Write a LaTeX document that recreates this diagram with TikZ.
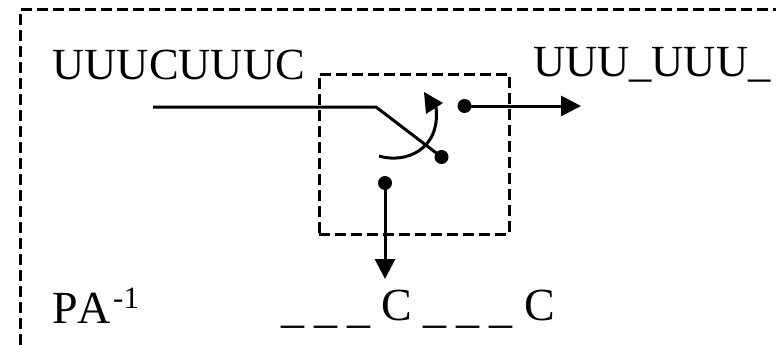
\documentclass[tikz,border=0pt]{standalone}
\usepackage{fontspec}
\setmainfont{Liberation Serif}
\usetikzlibrary{arrows.meta}
\newcommand{\lowbar}{\raisebox{-2.5pt}{\_}}
\newcommand{\barrun}{\lowbar\hspace{10.4pt}\lowbar\hspace{10.4pt}\lowbar}
\tikzset{
  x=1pt,y=-1pt,
  label text/.style={anchor=base west,inner sep=0pt,font=\fontsize{44.5}{48}\selectfont},
  pin dot/.style={circle,fill=black,inner sep=0pt,minimum size=14pt},
  wire/.style={line width=3pt},
  arrow wire/.style={wire,-{Triangle[length=20pt,width=20pt]}},
  frame/.style={line width=3pt,dash pattern=on 11pt off 5pt}
}
\begin{document}
\begin{tikzpicture}
\useasboundingbox (0,0) rectangle (776,345);
% outer frame
\coordinate (o1) at (20,345);
\coordinate (o2) at (20,10);
\coordinate (o3) at (776,10);
\draw[frame] (o1) -- (o2) -- (o3);
% inner frame
\node[draw,frame,inner sep=0pt,minimum width=190pt,minimum height=160pt] (sw) at (414,154) {};
% labels
\node[label text] (inp) at (52.5,80) {UUUCUUUC};
\node[label text] (out) at (533,76) {UUU\_UUU\_};
\node[label text,font=\fontsize{46}{48}\selectfont] (pa) at (52,323) {P\kern0pt A};
\node[label text,font=\fontsize{31}{32}\selectfont] (sup) at (113,308) {-1};
\node[label text,font=\fontsize{46}{48}\selectfont] (low) at (281,320) {\barrun\hspace{10pt}C\hspace{11.5pt}\barrun\hspace{12pt}C};
% switch
\coordinate (start) at (153,107);
\coordinate (pivot) at (376,107);
\node[pin dot] (d1) at (441.5,157) {};
\node[pin dot] (d2) at (464.5,106) {};
\node[pin dot] (d3) at (385,183) {};
\coordinate (t1) at (581,106);
\coordinate (t2) at (385,279);
\draw[wire] (start) -- (pivot) -- (d1.center);
\draw[arrow wire] (d2.center) -- (t1);
\draw[arrow wire] (d3.center) -- (t2);
% throw arc
\coordinate (a1) at (379,156);
\coordinate (a2) at (436,107);
\draw[wire] (a1) .. controls (405,164) and (441,150) .. (a2);
\fill (424,92) -- (443,103) -- (426,114) -- cycle;
\end{tikzpicture}
\end{document}
